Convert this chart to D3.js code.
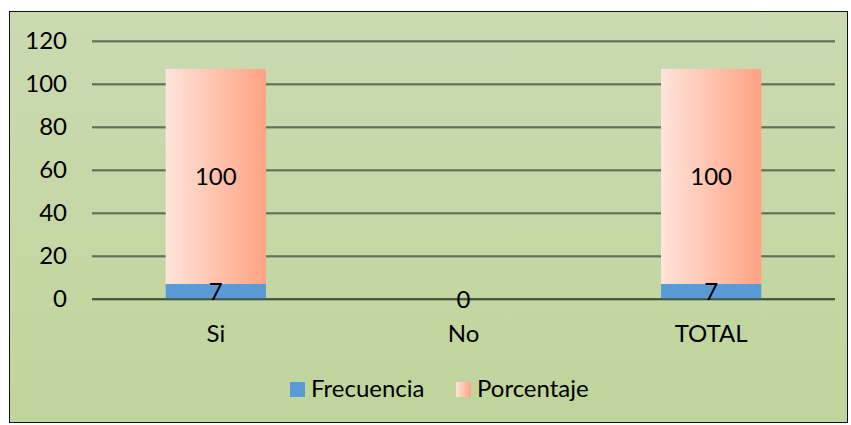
<!DOCTYPE html>
<html>
<head>
<meta charset="utf-8">
<script src="https://cdn.jsdelivr.net/npm/d3@7"></script>
<style>
  body { margin: 0; background: #fff; }
  text { font-family: Lato, "Open Sans", sans-serif; fill: #000; }
</style>
</head>
<body>
<div id="chart"></div>
<script>
// data
var categories = ["Si", "No", "TOTAL"];
var frecuencia = [7, 0, 7];
var porcentaje = [100, 0, 100];
var seriesNames = ["Frecuencia", "Porcentaje"];
var yTicks = [0, 20, 40, 60, 80, 100, 120];

var W = 851, H = 425;
var margin = { top: 41, right: 16, bottom: 126, left: 92 };
var fontSize = "24px";

var svg = d3.select("#chart").append("svg")
    .attr("width", W)
    .attr("height", H);

var defs = svg.append("defs");
var bg = defs.append("linearGradient").attr("id", "bgGrad")
    .attr("x1", 0).attr("y1", 0).attr("x2", 0).attr("y2", 1);
bg.append("stop").attr("offset", "0%").attr("stop-color", "#cbdab1");
bg.append("stop").attr("offset", "100%").attr("stop-color", "#bfd59b");

var pg = defs.append("linearGradient").attr("id", "pctGrad")
    .attr("x1", 0).attr("y1", 0).attr("x2", 1).attr("y2", 0);
pg.append("stop").attr("offset", "0%").attr("stop-color", "#ffe4db");
pg.append("stop").attr("offset", "100%").attr("stop-color", "#ffa282");

// chart area
svg.append("rect")
    .attr("x", 9.5).attr("y", 11.5)
    .attr("width", 838).attr("height", 411)
    .attr("fill", "url(#bgGrad)")
    .attr("stroke", "#111")
    .attr("stroke-width", 1);

var x = d3.scaleBand()
    .domain(categories)
    .range([margin.left, W - margin.right])
    .paddingInner(0.595)
    .paddingOuter(0.2975);

var y = d3.scaleLinear()
    .domain([0, 120])
    .range([299, 41]);

// gridlines
var grid = svg.append("g");
grid.selectAll("line.shadow")
    .data(yTicks)
    .enter().append("line")
    .attr("x1", margin.left).attr("x2", W - margin.right)
    .attr("y1", function(d){ return y(d) + 1; })
    .attr("y2", function(d){ return y(d) + 1; })
    .attr("stroke", "#75836a").attr("stroke-width", 1);
grid.selectAll("line.main")
    .data(yTicks)
    .enter().append("line")
    .attr("x1", margin.left).attr("x2", W - margin.right)
    .attr("y1", function(d){ return y(d); })
    .attr("y2", function(d){ return y(d); })
    .attr("stroke", "#2a3424").attr("stroke-width", 1);

// y axis labels
var yAxis = d3.axisLeft(y).tickValues(yTicks).tickSize(0).tickPadding(25);
var ya = svg.append("g")
    .attr("transform", "translate(" + margin.left + ",0)")
    .call(yAxis);
ya.select(".domain").remove();
ya.selectAll("text")
    .style("font-size", fontSize)
    .style("font-family", "Lato, sans-serif")
    .attr("fill", "#000");

// stacked bars
var rows = categories.map(function(c, i){
    return { cat: c, Frecuencia: frecuencia[i], Porcentaje: porcentaje[i] };
});
var stack = d3.stack().keys(seriesNames)(rows);
var fills = { Frecuencia: "#5b9bd5", Porcentaje: "url(#pctGrad)" };

var layers = svg.selectAll("g.layer")
    .data(stack)
    .enter().append("g")
    .attr("class", "layer")
    .attr("fill", function(d){ return fills[d.key]; });

layers.selectAll("rect")
    .data(function(d){ return d; })
    .enter().append("rect")
    .attr("x", function(d){ return x(d.data.cat); })
    .attr("width", x.bandwidth())
    .attr("y", function(d){ return y(d[1]); })
    .attr("height", function(d){ return y(d[0]) - y(d[1]); });

// redraw zero line over bar bottoms
svg.append("line")
    .attr("x1", margin.left).attr("x2", W - margin.right)
    .attr("y1", y(0)).attr("y2", y(0))
    .attr("stroke", "#2a3424").attr("stroke-width", 1);

// data labels
stack.forEach(function(layer){
    layer.forEach(function(d){
        var v = d[1] - d[0];
        if (layer.key === "Porcentaje" && v === 0) return;
        svg.append("text")
            .attr("x", x(d.data.cat) + x.bandwidth() / 2)
            .attr("y", (y(d[0]) + y(d[1])) / 2 + 9)
            .attr("text-anchor", "middle")
            .style("font-size", fontSize)
            .text(v);
    });
});

// category labels
svg.selectAll("text.cat")
    .data(categories)
    .enter().append("text")
    .attr("class", "cat")
    .attr("x", function(d){ return x(d) + x.bandwidth() / 2; })
    .attr("y", 342)
    .attr("text-anchor", "middle")
    .style("font-size", fontSize)
    .text(function(d){ return d; });

// legend
var legendX = [290, 456];
var leg = svg.selectAll("g.legend")
    .data(seriesNames)
    .enter().append("g")
    .attr("class", "legend")
    .attr("transform", function(d, i){ return "translate(" + legendX[i] + ",382)"; });
leg.append("rect")
    .attr("width", 15).attr("height", 15)
    .attr("fill", function(d){ return fills[d]; });
leg.append("text")
    .attr("x", 21).attr("y", 15)
    .style("font-size", fontSize)
    .text(function(d){ return d; });
</script>
</body>
</html>
